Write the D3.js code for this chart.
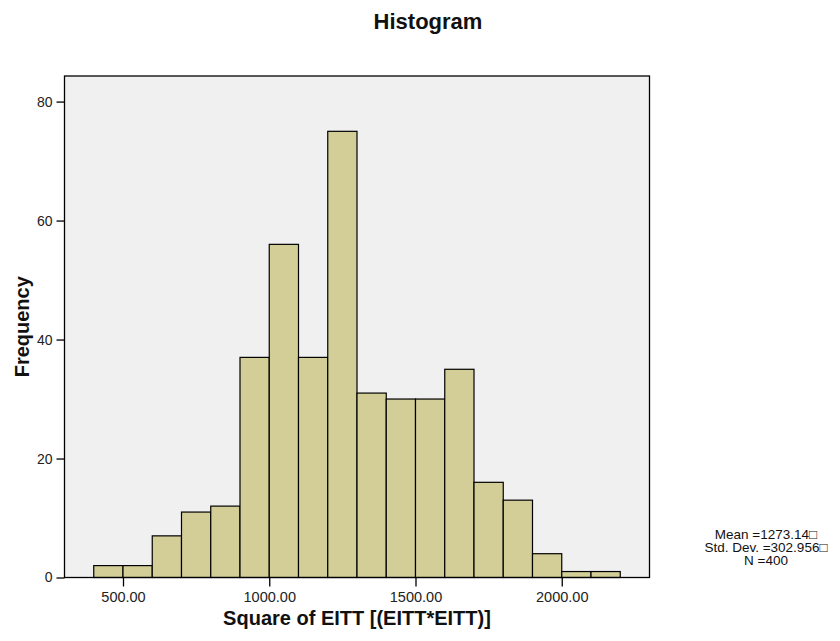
<!DOCTYPE html>
<html>
<head>
<meta charset="utf-8">
<script src="https://cdn.jsdelivr.net/npm/d3@7"></script>
<style>
  body { margin: 0; background: #ffffff; }
  svg { display: block; font-family: Arial, "Liberation Sans", Helvetica, sans-serif; }
</style>
</head>
<body>
<svg id="chart" width="840" height="641"></svg>
<script>
// Histogram bins (lower edge) and counts
const binStarts = [400, 500, 600, 700, 800, 900, 1000, 1100, 1200, 1300, 1400, 1500, 1600, 1700, 1800, 1900, 2000, 2100];
const binWidth = 100;
const counts = [2, 2, 7, 11, 12, 37, 56, 37, 75, 31, 30, 30, 35, 16, 13, 4, 1, 1];
const xTicks = [500, 1000, 1500, 2000];
const yTicks = [0, 20, 40, 60, 80];
const statsLines = ["Mean =1273.14\u25A1", "Std. Dev. =302.956\u25A1", "N =400"];

const svg = d3.select("#chart");
const plotLeft = 64.5, plotRight = 649.5, plotTop = 76, plotBottom = 577.5;

const x = d3.scaleLinear().domain([300, 2300]).range([plotLeft, plotRight]);
const y = d3.scaleLinear().domain([0, 84.3]).range([plotBottom, plotTop]);

// plot background
svg.append("rect")
  .attr("x", plotLeft).attr("y", plotTop)
  .attr("width", plotRight - plotLeft).attr("height", plotBottom - plotTop)
  .attr("fill", "#f0f0f0");

// bars
svg.append("g").selectAll("rect")
  .data(binStarts.map((s, i) => ({ s, c: counts[i] })))
  .join("rect")
  .attr("x", d => x(d.s))
  .attr("y", d => y(d.c))
  .attr("width", d => x(d.s + binWidth) - x(d.s))
  .attr("height", d => y(0) - y(d.c))
  .attr("fill", "#d3ce97")
  .attr("stroke", "#000")
  .attr("stroke-width", 1.2);

// frame
svg.append("rect")
  .attr("x", plotLeft).attr("y", plotTop)
  .attr("width", plotRight - plotLeft).attr("height", plotBottom - plotTop)
  .attr("fill", "none")
  .attr("stroke", "#000")
  .attr("stroke-width", 1.3);

// axes
const xAxis = d3.axisBottom(x).tickValues(xTicks).tickFormat(d3.format(".2f"))
  .tickSize(9).tickSizeOuter(0).tickPadding(5);
const gx = svg.append("g").attr("transform", `translate(0,${plotBottom})`).call(xAxis);
gx.select(".domain").remove();
gx.selectAll("line").attr("stroke", "#000").attr("stroke-width", 1.3);
gx.selectAll("text").attr("font-size", 14.5).attr("fill", "#222");

const yAxis = d3.axisLeft(y).tickValues(yTicks).tickFormat(d3.format("d"))
  .tickSize(8).tickSizeOuter(0).tickPadding(4);
const gy = svg.append("g").attr("transform", `translate(${plotLeft},0)`).call(yAxis);
gy.select(".domain").remove();
gy.selectAll("line").attr("stroke", "#000").attr("stroke-width", 1.3);
gy.selectAll("text").attr("font-size", 14).attr("fill", "#222");

// title
svg.append("text")
  .attr("x", 428).attr("y", 29)
  .attr("text-anchor", "middle")
  .attr("font-size", 22).attr("font-weight", "bold").attr("fill", "#111")
  .text("Histogram");

// axis titles
svg.append("text")
  .attr("x", (plotLeft + plotRight) / 2).attr("y", 625)
  .attr("text-anchor", "middle")
  .attr("font-size", 20).attr("font-weight", "bold").attr("fill", "#111")
  .text("Square of EITT [(EITT*EITT)]");

svg.append("text")
  .attr("transform", `translate(29,${(plotTop + plotBottom) / 2}) rotate(-90)`)
  .attr("text-anchor", "middle")
  .attr("font-size", 20).attr("font-weight", "bold").attr("fill", "#111")
  .text("Frequency");

// summary statistics
svg.append("g").selectAll("text")
  .data(statsLines)
  .join("text")
  .attr("x", 766)
  .attr("y", (d, i) => 538.5 + i * 13)
  .attr("text-anchor", "middle")
  .attr("font-size", 13.5).attr("fill", "#111")
  .text(d => d);
</script>
</body>
</html>
